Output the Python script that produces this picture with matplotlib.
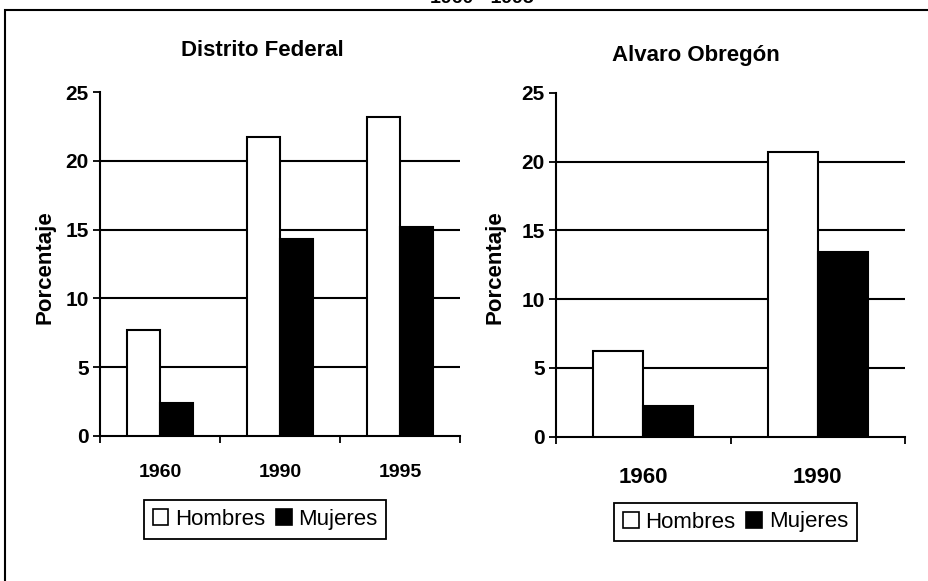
import numpy as np
import matplotlib.pyplot as plt
from matplotlib.patches import Rectangle, Patch

plt.rcParams['font.family'] = ['Liberation Sans', 'DejaVu Sans']

# datos
df_years = ['1960', '1990', '1995']
df_hombres = [7.7, 21.7, 23.2]
df_mujeres = [2.4, 14.3, 15.2]

ao_years = ['1960', '1990']
ao_hombres = [6.2, 20.7]
ao_mujeres = [2.2, 13.4]

yticks = [0, 5, 10, 15, 20, 25]


def drawPanel(ax, years, hombres, mujeres, width, label_size, label_pad):
    x = np.arange(len(years))
    ax.bar(x - width/2, hombres, width, color='white', edgecolor='black',
           linewidth=1.5, zorder=3)
    ax.bar(x + width/2, mujeres, width, color='black', edgecolor='black',
           linewidth=1.5, zorder=3)

    ax.set_xlim(-0.5, len(years) - 0.5)
    ax.set_ylim(0, 25)
    ax.set_yticks(yticks)
    ax.set_yticklabels([str(t) for t in yticks], fontsize=15,
                       fontweight='bold')
    for g in yticks[1:-1]:
        ax.axhline(g, color='black', linewidth=1.5, zorder=1)

    # ticks on category boundaries, labels at category centres
    ax.set_xticks(np.arange(len(years) + 1) - 0.5)
    ax.set_xticklabels([])
    ax.set_xticks(x, minor=True)
    ax.set_xticklabels(years, minor=True, fontsize=label_size,
                       fontweight='bold')
    ax.tick_params(axis='x', which='minor', length=0, pad=label_pad)
    ax.tick_params(axis='x', which='major', length=5, width=1.3,
                   direction='out')
    ax.tick_params(axis='y', length=5, width=1.3, direction='out', pad=3)

    ax.spines['top'].set_visible(False)
    ax.spines['right'].set_visible(False)
    ax.spines['left'].set_linewidth(1.5)
    ax.spines['bottom'].set_linewidth(1.5)


fig = plt.figure(figsize=(9.29, 5.81), dpi=100)

# outer frame
fig.patches.append(Rectangle((5/929, -0.05), 1.0, 1 - 10/581 + 0.05,
                             transform=fig.transFigure, fill=False,
                             edgecolor='black', linewidth=1.5))

# title cut off at the top of the scan
fig.text(482/929, 1 - 3/581, '1960 - 1995', fontsize=14, fontweight='bold',
         ha='center', va='baseline')

ax1 = fig.add_axes([0.1076, 0.2496, 0.3876, 0.592])
drawPanel(ax1, df_years, df_hombres, df_mujeres, 0.275, 14, 20)

ax2 = fig.add_axes([0.5985, 0.2484, 0.3757, 0.592])
drawPanel(ax2, ao_years, ao_hombres, ao_mujeres, 0.287, 16, 22)

fig.text(262/929, 1 - 50/581, 'Distrito Federal', fontsize=16,
         fontweight='bold', ha='center', va='center')
fig.text(696/929, 1 - 55/581, 'Alvaro Obregón', fontsize=16,
         fontweight='bold', ha='center', va='center')

fig.text(45/929, 1 - 267/581, 'Porcentaje', fontsize=16, fontweight='bold',
         rotation=90, ha='center', va='center')
fig.text(495/929, 1 - 267/581, 'Porcentaje', fontsize=16, fontweight='bold',
         rotation=90, ha='center', va='center')

handles = [Patch(facecolor='white', edgecolor='black', linewidth=1.2),
           Patch(facecolor='black', edgecolor='black', linewidth=1.2)]
names = ['Hombres', 'Mujeres']

for cx, cy, fs in [(265/929, 1 - 519.5/581, 16), (735.5/929, 1 - 522/581, 16)]:
    leg = fig.legend(handles, names, loc='center', bbox_to_anchor=(cx, cy),
                     ncol=2, fontsize=fs, handlelength=0.7, handleheight=0.7,
                     handletextpad=0.3, columnspacing=0.5, borderpad=0.4,
                     fancybox=False, framealpha=1)
    leg.get_frame().set_edgecolor('black')
    leg.get_frame().set_linewidth(1.3)

fig.savefig('out.png', dpi=100)
